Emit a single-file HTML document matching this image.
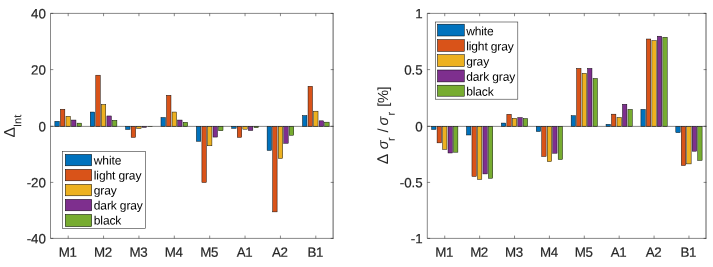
<!DOCTYPE html>
<html><head><meta charset="utf-8"><title>chart</title>
<style>
html,body{margin:0;padding:0;background:#fff;}
svg{display:block;filter:blur(0.35px);}
text{font-family:"Liberation Sans",sans-serif;fill:#262626;text-rendering:geometricPrecision;}
.t{font-size:13.33px;stroke:#262626;stroke-width:0.2px;}
.x{letter-spacing:-0.4px;}
.l{font-size:12px;fill:#000;letter-spacing:-0.12px;}
.yl{font-size:14.67px;}
</style></head><body>
<svg width="713" height="267" viewBox="0 0 713 267">
<rect width="713" height="267" fill="#fff"/>
<rect x="54.86" y="121.32" width="4.44" height="5.08" fill="#0072BD" stroke="#000" stroke-width="0.45"/>
<rect x="60.41" y="109.22" width="4.44" height="17.18" fill="#D95319" stroke="#000" stroke-width="0.45"/>
<rect x="65.97" y="116.26" width="4.44" height="10.14" fill="#EDB120" stroke="#000" stroke-width="0.45"/>
<rect x="71.52" y="120.05" width="4.44" height="6.35" fill="#7E2F8E" stroke="#000" stroke-width="0.45"/>
<rect x="77.07" y="123.15" width="4.44" height="3.25" fill="#77AC30" stroke="#000" stroke-width="0.45"/>
<rect x="90.23" y="112.04" width="4.44" height="14.36" fill="#0072BD" stroke="#000" stroke-width="0.45"/>
<rect x="95.79" y="75.19" width="4.44" height="51.21" fill="#D95319" stroke="#000" stroke-width="0.45"/>
<rect x="101.34" y="104.44" width="4.44" height="21.96" fill="#EDB120" stroke="#000" stroke-width="0.45"/>
<rect x="106.89" y="115.97" width="4.44" height="10.43" fill="#7E2F8E" stroke="#000" stroke-width="0.45"/>
<rect x="112.45" y="120.33" width="4.44" height="6.07" fill="#77AC30" stroke="#000" stroke-width="0.45"/>
<rect x="125.61" y="126.40" width="4.44" height="3.07" fill="#0072BD" stroke="#000" stroke-width="0.45"/>
<rect x="131.16" y="126.40" width="4.44" height="10.95" fill="#D95319" stroke="#000" stroke-width="0.45"/>
<rect x="136.72" y="126.40" width="4.44" height="2.09" fill="#EDB120" stroke="#000" stroke-width="0.45"/>
<rect x="142.27" y="126.40" width="4.44" height="0.97" fill="#7E2F8E" stroke="#000" stroke-width="0.45"/>
<rect x="147.82" y="126.40" width="4.44" height="0.26" fill="#77AC30" stroke="#000" stroke-width="0.45"/>
<rect x="160.98" y="117.52" width="4.44" height="8.88" fill="#0072BD" stroke="#000" stroke-width="0.45"/>
<rect x="166.54" y="95.30" width="4.44" height="31.10" fill="#D95319" stroke="#000" stroke-width="0.45"/>
<rect x="172.09" y="112.04" width="4.44" height="14.36" fill="#EDB120" stroke="#000" stroke-width="0.45"/>
<rect x="177.64" y="120.05" width="4.44" height="6.35" fill="#7E2F8E" stroke="#000" stroke-width="0.45"/>
<rect x="183.20" y="122.30" width="4.44" height="4.10" fill="#77AC30" stroke="#000" stroke-width="0.45"/>
<rect x="196.36" y="126.40" width="4.44" height="14.89" fill="#0072BD" stroke="#000" stroke-width="0.45"/>
<rect x="201.91" y="126.40" width="4.44" height="56.09" fill="#D95319" stroke="#000" stroke-width="0.45"/>
<rect x="207.47" y="126.40" width="4.44" height="19.39" fill="#EDB120" stroke="#000" stroke-width="0.45"/>
<rect x="213.02" y="126.40" width="4.44" height="10.67" fill="#7E2F8E" stroke="#000" stroke-width="0.45"/>
<rect x="218.57" y="126.40" width="4.44" height="4.31" fill="#77AC30" stroke="#000" stroke-width="0.45"/>
<rect x="231.73" y="126.40" width="4.44" height="1.95" fill="#0072BD" stroke="#000" stroke-width="0.45"/>
<rect x="237.29" y="126.40" width="4.44" height="10.95" fill="#D95319" stroke="#000" stroke-width="0.45"/>
<rect x="242.84" y="126.40" width="4.44" height="2.79" fill="#EDB120" stroke="#000" stroke-width="0.45"/>
<rect x="248.39" y="126.40" width="4.44" height="4.06" fill="#7E2F8E" stroke="#000" stroke-width="0.45"/>
<rect x="253.95" y="126.40" width="4.44" height="1.25" fill="#77AC30" stroke="#000" stroke-width="0.45"/>
<rect x="267.11" y="126.40" width="4.44" height="24.03" fill="#0072BD" stroke="#000" stroke-width="0.45"/>
<rect x="272.66" y="126.40" width="4.44" height="85.48" fill="#D95319" stroke="#000" stroke-width="0.45"/>
<rect x="278.22" y="126.40" width="4.44" height="32.04" fill="#EDB120" stroke="#000" stroke-width="0.45"/>
<rect x="283.77" y="126.40" width="4.44" height="16.86" fill="#7E2F8E" stroke="#000" stroke-width="0.45"/>
<rect x="289.32" y="126.40" width="4.44" height="8.84" fill="#77AC30" stroke="#000" stroke-width="0.45"/>
<rect x="302.48" y="115.55" width="4.44" height="10.85" fill="#0072BD" stroke="#000" stroke-width="0.45"/>
<rect x="308.04" y="86.30" width="4.44" height="40.10" fill="#D95319" stroke="#000" stroke-width="0.45"/>
<rect x="313.59" y="111.19" width="4.44" height="15.21" fill="#EDB120" stroke="#000" stroke-width="0.45"/>
<rect x="319.14" y="120.84" width="4.44" height="5.56" fill="#7E2F8E" stroke="#000" stroke-width="0.45"/>
<rect x="324.70" y="122.16" width="4.44" height="4.24" fill="#77AC30" stroke="#000" stroke-width="0.45"/>
<line x1="50.5" y1="126.40" x2="333.5" y2="126.40" stroke="#262626" stroke-width="0.55"/>
<path d="M333.1 13.4H50.5V238.4H333.1" fill="none" stroke="#262626" stroke-width="0.55"/>
<line x1="333.1" y1="13.13" x2="333.1" y2="238.67000000000002" stroke="#262626" stroke-width="0.75"/>
<line x1="68.19" y1="238.4" x2="68.19" y2="235.6" stroke="#262626" stroke-width="0.55"/>
<line x1="68.19" y1="13.4" x2="68.19" y2="16.2" stroke="#262626" stroke-width="0.55"/>
<line x1="103.56" y1="238.4" x2="103.56" y2="235.6" stroke="#262626" stroke-width="0.55"/>
<line x1="103.56" y1="13.4" x2="103.56" y2="16.2" stroke="#262626" stroke-width="0.55"/>
<line x1="138.94" y1="238.4" x2="138.94" y2="235.6" stroke="#262626" stroke-width="0.55"/>
<line x1="138.94" y1="13.4" x2="138.94" y2="16.2" stroke="#262626" stroke-width="0.55"/>
<line x1="174.31" y1="238.4" x2="174.31" y2="235.6" stroke="#262626" stroke-width="0.55"/>
<line x1="174.31" y1="13.4" x2="174.31" y2="16.2" stroke="#262626" stroke-width="0.55"/>
<line x1="209.69" y1="238.4" x2="209.69" y2="235.6" stroke="#262626" stroke-width="0.55"/>
<line x1="209.69" y1="13.4" x2="209.69" y2="16.2" stroke="#262626" stroke-width="0.55"/>
<line x1="245.06" y1="238.4" x2="245.06" y2="235.6" stroke="#262626" stroke-width="0.55"/>
<line x1="245.06" y1="13.4" x2="245.06" y2="16.2" stroke="#262626" stroke-width="0.55"/>
<line x1="280.44" y1="238.4" x2="280.44" y2="235.6" stroke="#262626" stroke-width="0.55"/>
<line x1="280.44" y1="13.4" x2="280.44" y2="16.2" stroke="#262626" stroke-width="0.55"/>
<line x1="315.81" y1="238.4" x2="315.81" y2="235.6" stroke="#262626" stroke-width="0.55"/>
<line x1="315.81" y1="13.4" x2="315.81" y2="16.2" stroke="#262626" stroke-width="0.55"/>
<line x1="50.5" y1="238.40" x2="53.3" y2="238.40" stroke="#262626" stroke-width="0.55"/>
<line x1="333.5" y1="238.40" x2="330.7" y2="238.40" stroke="#262626" stroke-width="0.55"/>
<line x1="50.5" y1="182.40" x2="53.3" y2="182.40" stroke="#262626" stroke-width="0.55"/>
<line x1="333.5" y1="182.40" x2="330.7" y2="182.40" stroke="#262626" stroke-width="0.55"/>
<line x1="50.5" y1="126.30" x2="53.3" y2="126.30" stroke="#262626" stroke-width="0.55"/>
<line x1="333.5" y1="126.30" x2="330.7" y2="126.30" stroke="#262626" stroke-width="0.55"/>
<line x1="50.5" y1="69.60" x2="53.3" y2="69.60" stroke="#262626" stroke-width="0.55"/>
<line x1="333.5" y1="69.60" x2="330.7" y2="69.60" stroke="#262626" stroke-width="0.55"/>
<line x1="50.5" y1="13.40" x2="53.3" y2="13.40" stroke="#262626" stroke-width="0.55"/>
<line x1="333.5" y1="13.40" x2="330.7" y2="13.40" stroke="#262626" stroke-width="0.55"/>
<rect x="62.5" y="151.5" width="82.9" height="76.9" fill="#fff" stroke="#262626" stroke-width="0.55"/>
<rect x="65.30" y="154.40" width="26.4" height="11.4" fill="#0072BD" stroke="#000" stroke-width="0.5"/>
<rect x="65.30" y="169.40" width="26.4" height="11.4" fill="#D95319" stroke="#000" stroke-width="0.5"/>
<rect x="65.30" y="184.40" width="26.4" height="11.4" fill="#EDB120" stroke="#000" stroke-width="0.5"/>
<rect x="65.30" y="199.40" width="26.4" height="11.4" fill="#7E2F8E" stroke="#000" stroke-width="0.5"/>
<rect x="65.30" y="214.40" width="26.4" height="12.2" fill="#77AC30" stroke="#000" stroke-width="0.5"/>
<rect x="431.60" y="126.40" width="4.38" height="3.07" fill="#0072BD" stroke="#000" stroke-width="0.45"/>
<rect x="437.08" y="126.40" width="4.38" height="16.46" fill="#D95319" stroke="#000" stroke-width="0.45"/>
<rect x="442.55" y="126.40" width="4.38" height="22.99" fill="#EDB120" stroke="#000" stroke-width="0.45"/>
<rect x="448.03" y="126.40" width="4.38" height="26.59" fill="#7E2F8E" stroke="#000" stroke-width="0.45"/>
<rect x="453.51" y="126.40" width="4.38" height="25.80" fill="#77AC30" stroke="#000" stroke-width="0.45"/>
<rect x="466.49" y="126.40" width="4.38" height="8.59" fill="#0072BD" stroke="#000" stroke-width="0.45"/>
<rect x="471.96" y="126.40" width="4.38" height="50.04" fill="#D95319" stroke="#000" stroke-width="0.45"/>
<rect x="477.44" y="126.40" width="4.38" height="53.02" fill="#EDB120" stroke="#000" stroke-width="0.45"/>
<rect x="482.92" y="126.40" width="4.38" height="47.51" fill="#7E2F8E" stroke="#000" stroke-width="0.45"/>
<rect x="488.39" y="126.40" width="4.38" height="51.84" fill="#77AC30" stroke="#000" stroke-width="0.45"/>
<rect x="501.37" y="123.06" width="4.38" height="3.34" fill="#0072BD" stroke="#000" stroke-width="0.45"/>
<rect x="506.85" y="114.29" width="4.38" height="12.11" fill="#D95319" stroke="#000" stroke-width="0.45"/>
<rect x="512.33" y="118.34" width="4.38" height="8.06" fill="#EDB120" stroke="#000" stroke-width="0.45"/>
<rect x="517.81" y="117.55" width="4.38" height="8.85" fill="#7E2F8E" stroke="#000" stroke-width="0.45"/>
<rect x="523.28" y="118.56" width="4.38" height="7.84" fill="#77AC30" stroke="#000" stroke-width="0.45"/>
<rect x="536.26" y="126.40" width="4.38" height="5.10" fill="#0072BD" stroke="#000" stroke-width="0.45"/>
<rect x="541.74" y="126.40" width="4.38" height="30.07" fill="#D95319" stroke="#000" stroke-width="0.45"/>
<rect x="547.22" y="126.40" width="4.38" height="35.14" fill="#EDB120" stroke="#000" stroke-width="0.45"/>
<rect x="552.69" y="126.40" width="4.38" height="26.81" fill="#7E2F8E" stroke="#000" stroke-width="0.45"/>
<rect x="558.17" y="126.40" width="4.38" height="33.11" fill="#77AC30" stroke="#000" stroke-width="0.45"/>
<rect x="571.15" y="115.69" width="4.38" height="10.71" fill="#0072BD" stroke="#000" stroke-width="0.45"/>
<rect x="576.63" y="68.39" width="4.38" height="58.01" fill="#D95319" stroke="#000" stroke-width="0.45"/>
<rect x="582.10" y="73.34" width="4.38" height="53.06" fill="#EDB120" stroke="#000" stroke-width="0.45"/>
<rect x="587.58" y="68.39" width="4.38" height="58.01" fill="#7E2F8E" stroke="#000" stroke-width="0.45"/>
<rect x="593.06" y="78.46" width="4.38" height="47.94" fill="#77AC30" stroke="#000" stroke-width="0.45"/>
<rect x="606.04" y="124.30" width="4.38" height="2.10" fill="#0072BD" stroke="#000" stroke-width="0.45"/>
<rect x="611.51" y="114.17" width="4.38" height="12.23" fill="#D95319" stroke="#000" stroke-width="0.45"/>
<rect x="616.99" y="117.47" width="4.38" height="8.93" fill="#EDB120" stroke="#000" stroke-width="0.45"/>
<rect x="622.47" y="104.27" width="4.38" height="22.13" fill="#7E2F8E" stroke="#000" stroke-width="0.45"/>
<rect x="627.94" y="109.38" width="4.38" height="17.02" fill="#77AC30" stroke="#000" stroke-width="0.45"/>
<rect x="640.92" y="109.38" width="4.38" height="17.02" fill="#0072BD" stroke="#000" stroke-width="0.45"/>
<rect x="646.40" y="39.02" width="4.38" height="87.38" fill="#D95319" stroke="#000" stroke-width="0.45"/>
<rect x="651.88" y="40.60" width="4.38" height="85.80" fill="#EDB120" stroke="#000" stroke-width="0.45"/>
<rect x="657.36" y="36.21" width="4.38" height="90.19" fill="#7E2F8E" stroke="#000" stroke-width="0.45"/>
<rect x="662.83" y="37.22" width="4.38" height="89.18" fill="#77AC30" stroke="#000" stroke-width="0.45"/>
<rect x="675.81" y="126.40" width="4.38" height="6.22" fill="#0072BD" stroke="#000" stroke-width="0.45"/>
<rect x="681.29" y="126.40" width="4.38" height="39.07" fill="#D95319" stroke="#000" stroke-width="0.45"/>
<rect x="686.77" y="126.40" width="4.38" height="37.50" fill="#EDB120" stroke="#000" stroke-width="0.45"/>
<rect x="692.24" y="126.40" width="4.38" height="24.79" fill="#7E2F8E" stroke="#000" stroke-width="0.45"/>
<rect x="697.72" y="126.40" width="4.38" height="34.01" fill="#77AC30" stroke="#000" stroke-width="0.45"/>
<line x1="427.3" y1="126.40" x2="706.4" y2="126.40" stroke="#262626" stroke-width="0.55"/>
<path d="M706.0 13.4H427.3V238.4H706.0" fill="none" stroke="#262626" stroke-width="0.55"/>
<line x1="706.0" y1="13.13" x2="706.0" y2="238.67000000000002" stroke="#262626" stroke-width="0.75"/>
<line x1="444.74" y1="238.4" x2="444.74" y2="235.6" stroke="#262626" stroke-width="0.55"/>
<line x1="444.74" y1="13.4" x2="444.74" y2="16.2" stroke="#262626" stroke-width="0.55"/>
<line x1="479.63" y1="238.4" x2="479.63" y2="235.6" stroke="#262626" stroke-width="0.55"/>
<line x1="479.63" y1="13.4" x2="479.63" y2="16.2" stroke="#262626" stroke-width="0.55"/>
<line x1="514.52" y1="238.4" x2="514.52" y2="235.6" stroke="#262626" stroke-width="0.55"/>
<line x1="514.52" y1="13.4" x2="514.52" y2="16.2" stroke="#262626" stroke-width="0.55"/>
<line x1="549.41" y1="238.4" x2="549.41" y2="235.6" stroke="#262626" stroke-width="0.55"/>
<line x1="549.41" y1="13.4" x2="549.41" y2="16.2" stroke="#262626" stroke-width="0.55"/>
<line x1="584.29" y1="238.4" x2="584.29" y2="235.6" stroke="#262626" stroke-width="0.55"/>
<line x1="584.29" y1="13.4" x2="584.29" y2="16.2" stroke="#262626" stroke-width="0.55"/>
<line x1="619.18" y1="238.4" x2="619.18" y2="235.6" stroke="#262626" stroke-width="0.55"/>
<line x1="619.18" y1="13.4" x2="619.18" y2="16.2" stroke="#262626" stroke-width="0.55"/>
<line x1="654.07" y1="238.4" x2="654.07" y2="235.6" stroke="#262626" stroke-width="0.55"/>
<line x1="654.07" y1="13.4" x2="654.07" y2="16.2" stroke="#262626" stroke-width="0.55"/>
<line x1="688.96" y1="238.4" x2="688.96" y2="235.6" stroke="#262626" stroke-width="0.55"/>
<line x1="688.96" y1="13.4" x2="688.96" y2="16.2" stroke="#262626" stroke-width="0.55"/>
<line x1="427.3" y1="238.40" x2="430.1" y2="238.40" stroke="#262626" stroke-width="0.55"/>
<line x1="706.4" y1="238.40" x2="703.6" y2="238.40" stroke="#262626" stroke-width="0.55"/>
<line x1="427.3" y1="182.40" x2="430.1" y2="182.40" stroke="#262626" stroke-width="0.55"/>
<line x1="706.4" y1="182.40" x2="703.6" y2="182.40" stroke="#262626" stroke-width="0.55"/>
<line x1="427.3" y1="126.30" x2="430.1" y2="126.30" stroke="#262626" stroke-width="0.55"/>
<line x1="706.4" y1="126.30" x2="703.6" y2="126.30" stroke="#262626" stroke-width="0.55"/>
<line x1="427.3" y1="69.60" x2="430.1" y2="69.60" stroke="#262626" stroke-width="0.55"/>
<line x1="706.4" y1="69.60" x2="703.6" y2="69.60" stroke="#262626" stroke-width="0.55"/>
<line x1="427.3" y1="13.40" x2="430.1" y2="13.40" stroke="#262626" stroke-width="0.55"/>
<line x1="706.4" y1="13.40" x2="703.6" y2="13.40" stroke="#262626" stroke-width="0.55"/>
<rect x="435.5" y="22.0" width="82.3" height="77.2" fill="#fff" stroke="#262626" stroke-width="0.55"/>
<rect x="437.50" y="24.20" width="26.8" height="11.8" fill="#0072BD" stroke="#000" stroke-width="0.5"/>
<rect x="437.50" y="39.60" width="26.8" height="11.8" fill="#D95319" stroke="#000" stroke-width="0.5"/>
<rect x="437.50" y="54.70" width="26.8" height="11.8" fill="#EDB120" stroke="#000" stroke-width="0.5"/>
<rect x="437.50" y="70.00" width="26.8" height="11.9" fill="#7E2F8E" stroke="#000" stroke-width="0.5"/>
<rect x="437.50" y="85.20" width="26.8" height="11.0" fill="#77AC30" stroke="#000" stroke-width="0.5"/>
<g>
<text x="67.59" y="256.7" transform="rotate(0.15 68.19 256.7)" text-anchor="middle" class="t x">M1</text>
<text x="102.96" y="256.7" transform="rotate(0.15 103.56 256.7)" text-anchor="middle" class="t x">M2</text>
<text x="138.34" y="256.7" transform="rotate(0.15 138.94 256.7)" text-anchor="middle" class="t x">M3</text>
<text x="173.71" y="256.7" transform="rotate(0.15 174.31 256.7)" text-anchor="middle" class="t x">M4</text>
<text x="209.09" y="256.7" transform="rotate(0.15 209.69 256.7)" text-anchor="middle" class="t x">M5</text>
<text x="244.46" y="256.7" transform="rotate(0.15 245.06 256.7)" text-anchor="middle" class="t x">A1</text>
<text x="279.84" y="256.7" transform="rotate(0.15 280.44 256.7)" text-anchor="middle" class="t x">A2</text>
<text x="315.21" y="256.7" transform="rotate(0.15 315.81 256.7)" text-anchor="middle" class="t x">B1</text>
<text x="45.90" y="243.40" transform="rotate(0.15 45.90 243.40)" text-anchor="end" class="t">-40</text>
<text x="45.90" y="187.40" transform="rotate(0.15 45.90 187.40)" text-anchor="end" class="t">-20</text>
<text x="45.90" y="131.30" transform="rotate(0.15 45.90 131.30)" text-anchor="end" class="t">0</text>
<text x="45.90" y="74.60" transform="rotate(0.15 45.90 74.60)" text-anchor="end" class="t">20</text>
<text x="45.90" y="18.40" transform="rotate(0.15 45.90 18.40)" text-anchor="end" class="t">40</text>
<text x="93.80" y="164.40" transform="rotate(0.15 93.80 164.40)" class="l">white</text>
<text x="93.80" y="179.40" transform="rotate(0.15 93.80 179.40)" class="l">light gray</text>
<text x="93.80" y="194.40" transform="rotate(0.15 93.80 194.40)" class="l">gray</text>
<text x="93.80" y="209.40" transform="rotate(0.15 93.80 209.40)" class="l">dark gray</text>
<text x="93.80" y="224.50" transform="rotate(0.15 93.80 224.50)" class="l">black</text>
<text x="444.14" y="256.7" transform="rotate(0.15 444.74 256.7)" text-anchor="middle" class="t x">M1</text>
<text x="479.03" y="256.7" transform="rotate(0.15 479.63 256.7)" text-anchor="middle" class="t x">M2</text>
<text x="513.92" y="256.7" transform="rotate(0.15 514.52 256.7)" text-anchor="middle" class="t x">M3</text>
<text x="548.81" y="256.7" transform="rotate(0.15 549.41 256.7)" text-anchor="middle" class="t x">M4</text>
<text x="583.69" y="256.7" transform="rotate(0.15 584.29 256.7)" text-anchor="middle" class="t x">M5</text>
<text x="618.58" y="256.7" transform="rotate(0.15 619.18 256.7)" text-anchor="middle" class="t x">A1</text>
<text x="653.47" y="256.7" transform="rotate(0.15 654.07 256.7)" text-anchor="middle" class="t x">A2</text>
<text x="688.36" y="256.7" transform="rotate(0.15 688.96 256.7)" text-anchor="middle" class="t x">B1</text>
<text x="422.70" y="243.40" transform="rotate(0.15 422.70 243.40)" text-anchor="end" class="t">-1</text>
<text x="422.70" y="187.40" transform="rotate(0.15 422.70 187.40)" text-anchor="end" class="t">-0.5</text>
<text x="422.70" y="131.30" transform="rotate(0.15 422.70 131.30)" text-anchor="end" class="t">0</text>
<text x="422.70" y="74.60" transform="rotate(0.15 422.70 74.60)" text-anchor="end" class="t">0.5</text>
<text x="422.70" y="18.40" transform="rotate(0.15 422.70 18.40)" text-anchor="end" class="t">1</text>
<text x="466.20" y="35.20" transform="rotate(0.15 466.20 35.20)" class="l">white</text>
<text x="466.20" y="50.35" transform="rotate(0.15 466.20 50.35)" class="l">light gray</text>
<text x="466.20" y="65.50" transform="rotate(0.15 466.20 65.50)" class="l">gray</text>
<text x="466.20" y="80.65" transform="rotate(0.15 466.20 80.65)" class="l">dark gray</text>
<text x="466.20" y="95.60" transform="rotate(0.15 466.20 95.60)" class="l">black</text>
<text transform="translate(14.7,137.6) rotate(-89.85)" class="yl"><tspan font-size="15.6px">Δ</tspan><tspan dy="6.4" dx="0.2" font-size="11px">Int</tspan></text>
<text transform="translate(387.9,164.3) rotate(-89.85)" class="yl"><tspan font-size="15.6px">Δ</tspan><tspan dx="0.6" font-style="italic"> σ</tspan><tspan dy="6.8" dx="-0.5" font-size="11px">r</tspan><tspan dy="-6.8" dx="0.5"> / </tspan><tspan font-style="italic" dx="-1.1">σ</tspan><tspan dy="6.8" dx="1.2" font-size="11px">r</tspan><tspan dy="-6.8" dx="1.5" letter-spacing="-0.4"> [%]</tspan></text>
</g>
</svg>
</body></html>
